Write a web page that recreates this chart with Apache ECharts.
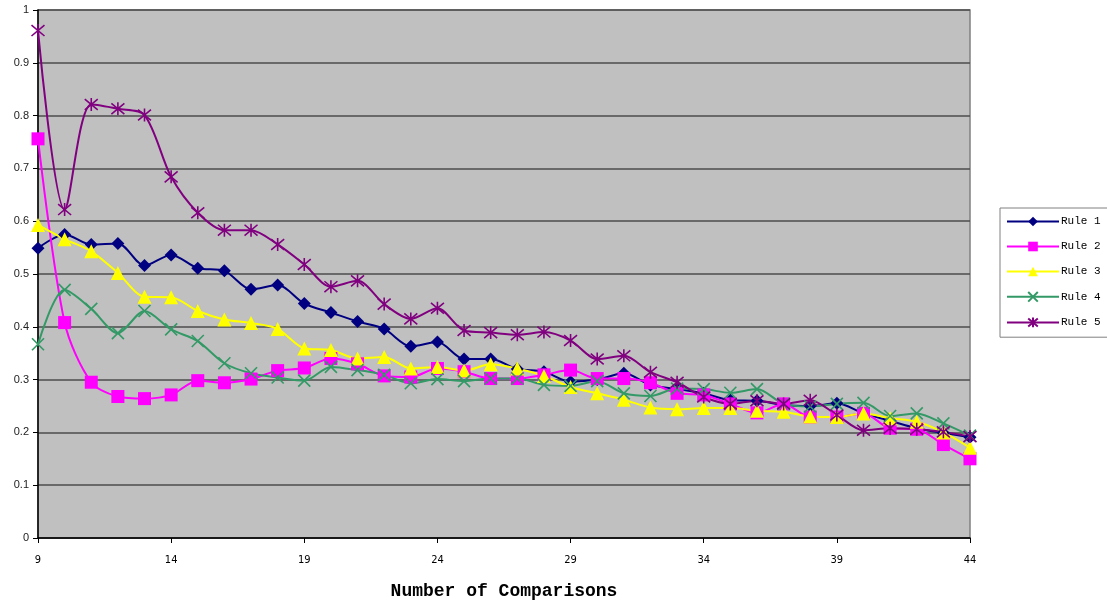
<!DOCTYPE html>
<html>
<head>
<meta charset="utf-8">
<title>Rules vs Number of Comparisons</title>
<script src="https://cdn.jsdelivr.net/npm/echarts@6/dist/echarts.min.js"></script>
<style>
  html, body { margin: 0; padding: 0; background: #ffffff; }
  #chart { width: 1107px; height: 605px; }
</style>
</head>
<body>
<div id="chart"></div>
<script>
// Number of comparisons (x values)
const comparisons = [9,10,11,12,13,14,15,16,17,18,19,20,21,22,23,24,25,26,27,28,29,30,31,32,33,34,35,36,37,38,39,40,41,42,43,44];

const rule1 = [0.549,0.575,0.556,0.558,0.516,0.536,0.511,0.506,0.471,0.479,0.444,0.427,0.410,0.396,0.363,0.371,0.339,0.339,0.320,0.315,0.296,0.300,0.312,0.290,0.282,0.274,0.261,0.260,0.252,0.250,0.255,0.236,0.222,0.208,0.199,0.191];
const rule2 = [0.756,0.408,0.295,0.268,0.264,0.271,0.298,0.294,0.301,0.317,0.322,0.340,0.330,0.307,0.305,0.321,0.315,0.302,0.302,0.309,0.318,0.302,0.302,0.294,0.274,0.271,0.254,0.237,0.254,0.229,0.229,0.236,0.208,0.206,0.177,0.150];
const rule3 = [0.593,0.566,0.543,0.502,0.457,0.456,0.430,0.414,0.407,0.396,0.359,0.356,0.340,0.343,0.321,0.324,0.317,0.329,0.321,0.307,0.286,0.274,0.262,0.247,0.244,0.246,0.246,0.241,0.239,0.230,0.229,0.236,0.227,0.220,0.200,0.171];
const rule4 = [0.367,0.470,0.434,0.388,0.430,0.395,0.373,0.331,0.312,0.304,0.298,0.324,0.318,0.309,0.293,0.301,0.297,0.302,0.302,0.290,0.288,0.297,0.274,0.269,0.283,0.282,0.275,0.282,0.254,0.249,0.254,0.256,0.231,0.236,0.217,0.194];
const rule5 = [0.961,0.622,0.821,0.813,0.801,0.684,0.616,0.583,0.583,0.556,0.518,0.476,0.487,0.443,0.415,0.435,0.393,0.389,0.385,0.390,0.374,0.339,0.345,0.314,0.295,0.267,0.254,0.260,0.254,0.261,0.233,0.204,0.208,0.206,0.201,0.192];

const seriesNames = ['Rule 1','Rule 2','Rule 3','Rule 4','Rule 5'];
const seriesData = [rule1, rule2, rule3, rule4, rule5];
const seriesColors = ['#000080','#FF00FF','#FFFF00','#339966','#800080'];

// marker shapes: diamond, square, triangle, cross, asterisk
const crossPath = 'path://M0,0L10,10M10,0L0,10';
const starPath = 'path://M0,0L10,10M10,0L0,10M5,-1L5,11';
const seriesSymbols = ['diamond','rect','triangle',crossPath,starPath];
const seriesSymbolSizes = [13,13,14,12,13];

function pairs(values) {
  return comparisons.map((c, i) => [c, values[i]]);
}

const series = seriesNames.map((name, i) => {
  const stroked = i >= 3;
  return {
    name: name,
    type: 'line',
    data: pairs(seriesData[i]),
    smooth: 0.3,
    symbol: seriesSymbols[i],
    symbolSize: seriesSymbolSizes[i],
    showAllSymbol: true,
    lineStyle: { color: seriesColors[i], width: 2 },
    itemStyle: stroked
      ? { color: seriesColors[i], borderColor: seriesColors[i], borderWidth: 1.6 }
      : { color: seriesColors[i], borderWidth: 0 },
    emphasis: { disabled: true },
    animation: false
  };
});

const chart = echarts.init(document.getElementById('chart'), null, { renderer: 'canvas' });

chart.setOption({
  backgroundColor: '#ffffff',
  animation: false,
  grid: {
    left: 38, top: 10, width: 932, height: 528,
    show: true,
    backgroundColor: '#C0C0C0',
    borderColor: '#808080',
    borderWidth: 1.5
  },
  legend: {
    orient: 'vertical',
    left: 1000,
    top: 208,
    padding: [8, 8, 9, 6],
    itemWidth: 52,
    itemHeight: 12,
    itemGap: 14,
    borderColor: '#808080',
    borderWidth: 1,
    backgroundColor: '#ffffff',
    textStyle: { fontFamily: 'Liberation Mono', fontSize: 11, color: '#000000', padding: [0, 0, 0, -3] },
    data: seriesNames
  },
  xAxis: {
    type: 'value',
    min: 9,
    max: 44,
    interval: 5,
    name: 'Number of Comparisons',
    nameLocation: 'middle',
    nameGap: 44,
    nameTextStyle: {
      fontFamily: 'Liberation Mono, Courier New, monospace',
      fontWeight: 'bold',
      fontSize: 18,
      color: '#000000'
    },
    axisLine: { show: true, lineStyle: { color: '#000000', width: 1.5 } },
    axisTick: { show: true, inside: false, length: 5, lineStyle: { color: '#000000' } },
    axisLabel: {
      margin: 17,
      fontFamily: 'Liberation Sans Narrow, DejaVu Sans Condensed, sans-serif',
      fontSize: 11,
      color: '#000000'
    },
    splitLine: { show: false }
  },
  yAxis: {
    type: 'value',
    min: 0,
    max: 1,
    interval: 0.1,
    axisLine: { show: true, lineStyle: { color: '#000000', width: 1.5 } },
    axisTick: { show: true, inside: false, length: 5, lineStyle: { color: '#000000' } },
    axisLabel: {
      margin: 9,
      fontFamily: 'Liberation Sans, Arial, sans-serif',
      fontSize: 11,
      color: '#222222',
      formatter: v => {
        const s = Number(v.toFixed(1));
        return String(s);
      }
    },
    splitLine: { show: true, lineStyle: { color: '#4d4d4d', width: 1.5 } }
  },
  series: series
});
</script>
</body>
</html>
